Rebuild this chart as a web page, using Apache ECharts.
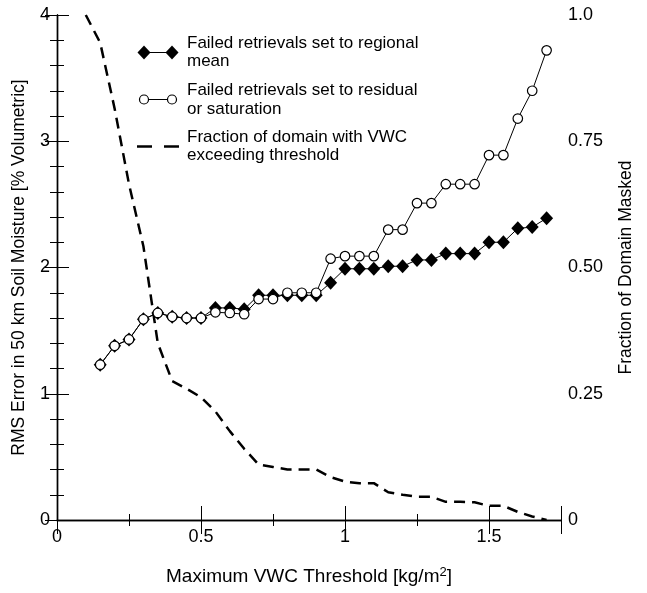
<!DOCTYPE html>
<html>
<head>
<meta charset="utf-8">
<script src="https://cdn.jsdelivr.net/npm/echarts@6/dist/echarts.min.js"></script>
<style>html,body{margin:0;padding:0;background:#fff}#c{width:647px;height:593px}</style>
</head>
<body>
<div id="c"></div>
<script>
// ---- data ----
var thresholds = [0.15,0.20,0.25,0.30,0.35,0.40,0.45,0.50,0.55,0.60,0.65,0.70,0.75,0.80,0.85,0.90,0.95,1.00,1.05,1.10,1.15,1.20,1.25,1.30,1.35,1.40,1.45,1.50,1.55,1.60,1.65,1.70];
var regionalMean = [1.23,1.38,1.43,1.59,1.64,1.61,1.60,1.60,1.68,1.68,1.67,1.78,1.78,1.78,1.78,1.78,1.88,1.99,1.99,1.99,2.01,2.01,2.06,2.06,2.11,2.11,2.11,2.20,2.20,2.31,2.32,2.39];
var residualSat = [1.23,1.38,1.43,1.59,1.64,1.61,1.60,1.60,1.645,1.64,1.63,1.75,1.75,1.80,1.80,1.80,2.07,2.09,2.09,2.09,2.30,2.30,2.51,2.51,2.66,2.66,2.66,2.89,2.89,3.18,3.40,3.72];
var fracX = [0.10,0.15,0.20,0.25,0.30,0.35,0.40,0.45,0.50,0.55,0.60,0.65,0.70,0.75,0.80,0.85,0.90,0.95,1.00,1.05,1.10,1.15,1.20,1.25,1.30,1.35,1.40,1.45,1.50,1.55,1.60,1.65,1.70];
var fracMasked = [1.0,0.945,0.815,0.665,0.542,0.35,0.275,0.26,0.243,0.215,0.176,0.141,0.11,0.105,0.10,0.10,0.10,0.085,0.076,0.073,0.073,0.055,0.05,0.046,0.046,0.036,0.036,0.035,0.028,0.028,0.016,0.007,0.0];
var xTickLabels = ['0','0.5','1','1.5'];
var leftTickLabels = ['0','1','2','3','4'];
var rightTickLabels = ['0','0.25','0.50','0.75','1.0'];
var seriesNames = ['Failed retrievals set to regional\nmean','Failed retrievals set to residual\nor saturation','Fraction of domain with VWC\nexceeding threshold'];

function pairs(xs, ys){ var o=[]; for (var i=0;i<xs.length;i++) o.push([xs[i], ys[i]]); return o; }

var FONT = "'Liberation Sans', Arial, Helvetica, sans-serif";
var chart = echarts.init(document.getElementById('c'), null, {renderer:'canvas'});

var axisLine = {show:true, lineStyle:{color:'#000', width:1.4}};
var option = {
  animation:false,
  backgroundColor:'#fff',
  textStyle:{fontFamily:FONT, color:'#000'},
  grid:{left:57, right:86, top:15, bottom:73, containLabel:false},
  xAxis:[{
    type:'value', min:0, max:1.75, interval:0.5, position:'bottom',
    axisLine:axisLine,
    axisTick:{show:true, inside:true, length:14, lineStyle:{color:'#000', width:1}},
    minorTick:{show:true, splitNumber:2, length:6, lineStyle:{color:'#000', width:1}},
    splitLine:{show:false},
    axisLabel:{show:true, color:'#000', fontSize:18, fontFamily:FONT, margin:8, showMaxLabel:false,
      formatter:function(v){ var i=Math.round(v/0.5); return (Math.abs(v-i*0.5)<1e-6 && i<xTickLabels.length)? xTickLabels[i] : ''; }},
    name:'Maximum VWC Threshold [kg/m{sup|2}]', nameLocation:'middle', nameGap:46,
    nameTextStyle:{fontSize:19, color:'#000', fontFamily:FONT, lineHeight:22,
      rich:{sup:{fontSize:13, fontFamily:FONT, color:'#000', verticalAlign:'top', lineHeight:22, padding:[0,0,0,0]}}}
  },{
    type:'value', min:0, max:1.75, interval:0.5, position:'top',
    axisLine:axisLine,
    axisTick:{show:true, inside:true, length:14, lineStyle:{color:'#000', width:1}},
    minorTick:{show:true, splitNumber:2, length:6, lineStyle:{color:'#000', width:1}},
    splitLine:{show:false}, axisLabel:{show:false}
  }],
  yAxis:[{
    type:'value', min:0, max:4, interval:1, position:'left',
    axisLine:axisLine,
    axisTick:{show:true, inside:true, length:12, lineStyle:{color:'#000', width:1}},
    minorTick:{show:true, splitNumber:5, length:7, lineStyle:{color:'#000', width:1}},
    splitLine:{show:false},
    axisLabel:{color:'#000', fontSize:18, fontFamily:FONT, margin:7,
      formatter:function(v){ return leftTickLabels[Math.round(v)]; }},
    name:'RMS Error in 50 km Soil Moisture [% Volumetric]', nameLocation:'middle', nameGap:29,
    nameTextStyle:{fontSize:17.5, color:'#000', fontFamily:FONT}
  },{
    type:'value', min:0, max:1, interval:0.25, position:'right',
    axisLine:axisLine,
    axisTick:{show:true, inside:true, length:12, lineStyle:{color:'#000', width:1}},
    minorTick:{show:true, splitNumber:5, length:7, lineStyle:{color:'#000', width:1}},
    splitLine:{show:false},
    axisLabel:{color:'#000', fontSize:18, fontFamily:FONT, margin:7,
      formatter:function(v){ return rightTickLabels[Math.round(v*4)]; }},
    name:'Fraction of Domain Masked', nameLocation:'middle', nameGap:56,
    nameTextStyle:{fontSize:17.5, color:'#000', fontFamily:FONT}
  }],
  series:[{
    name:seriesNames[0], type:'line', xAxisIndex:0, yAxisIndex:0,
    data:pairs(thresholds, regionalMean),
    symbol:'diamond', symbolSize:[13,14], showAllSymbol:true,
    itemStyle:{color:'#000'}, lineStyle:{color:'#000', width:1}, z:2
  },{
    name:seriesNames[1], type:'line', xAxisIndex:0, yAxisIndex:0,
    data:pairs(thresholds, residualSat),
    symbol:'circle', symbolSize:9.5, showAllSymbol:true,
    itemStyle:{color:'#fff', borderColor:'#000', borderWidth:1.2},
    lineStyle:{color:'#000', width:1}, z:3
  },{
    name:seriesNames[2], type:'line', xAxisIndex:0, yAxisIndex:1,
    data:pairs(fracX, fracMasked),
    symbol:'none', lineStyle:{color:'#000', width:2.5, type:[11,7]}, z:1
  }],
  graphic:[
    {type:'line', shape:{x1:144,y1:52.5,x2:172,y2:52.5}, style:{stroke:'#000', lineWidth:1}},
    {type:'polygon', shape:{points:[[137.5,52.5],[144,45.5],[150.5,52.5],[144,59.5]]}, style:{fill:'#000'}},
    {type:'polygon', shape:{points:[[165.5,52.5],[172,45.5],[178.5,52.5],[172,59.5]]}, style:{fill:'#000'}},
    {type:'text', x:187, y:34, style:{text:seriesNames[0], font:'17px '+FONT, lineHeight:18.5, fill:'#000', verticalAlign:'top'}},
    {type:'line', shape:{x1:144,y1:99.5,x2:172,y2:99.5}, style:{stroke:'#000', lineWidth:1}},
    {type:'circle', shape:{cx:144, cy:99.5, r:4.5}, style:{fill:'#fff', stroke:'#000', lineWidth:1.2}},
    {type:'circle', shape:{cx:172, cy:99.5, r:4.5}, style:{fill:'#fff', stroke:'#000', lineWidth:1.2}},
    {type:'text', x:187, y:81.5, style:{text:seriesNames[1], font:'17px '+FONT, lineHeight:18.5, fill:'#000', verticalAlign:'top'}},
    {type:'line', shape:{x1:137,y1:146.5,x2:152,y2:146.5}, style:{stroke:'#000', lineWidth:2.5}},
    {type:'line', shape:{x1:164,y1:146.5,x2:179,y2:146.5}, style:{stroke:'#000', lineWidth:2.5}},
    {type:'text', x:187, y:128, style:{text:seriesNames[2], font:'17px '+FONT, lineHeight:18.5, fill:'#000', verticalAlign:'top'}}
  ]
};
chart.setOption(option);
</script>
</body>
</html>
